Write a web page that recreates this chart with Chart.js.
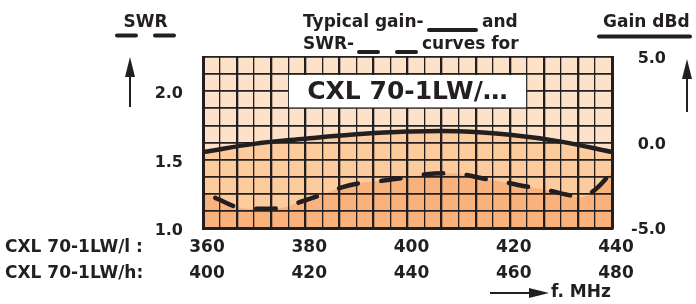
<!DOCTYPE html>
<html>
<head>
<meta charset="utf-8">
<script src="https://cdn.jsdelivr.net/npm/chart.js@4.4.1/dist/chart.umd.min.js"></script>
<style>
  html, body { margin: 0; padding: 0; background: #fff; }
  #wrap { width: 696px; height: 304px; position: relative; }
</style>
</head>
<body>
<div id="wrap"><canvas id="myChart"></canvas></div>
<script>
// gain curve (right axis, dBd)
const gainFreqs = [360, 370, 380, 390, 400, 410, 420, 430, 440]
const gainDb = [-0.56, -0.08, 0.22, 0.48, 0.64, 0.66, 0.45, 0.05, -0.56]

// SWR curve (left axis)
const swrFreqs = [360, 363, 367, 371, 375, 379, 383, 387, 391, 395, 399, 403, 407, 411, 415, 419, 423, 427, 431, 434, 437, 440]
const swrValues = [1.26, 1.21, 1.15, 1.14, 1.145, 1.19, 1.24, 1.295, 1.33, 1.345, 1.365, 1.39, 1.4, 1.39, 1.36, 1.335, 1.305, 1.28, 1.245, 1.225, 1.29, 1.41]

// tick labels
const lowBandTicks = ['360', '380', '400', '420', '440']
const highBandTicks = ['400', '420', '440', '460', '480']
const swrTicks = ['1.0', '1.5', '2.0']
const gainTicks = ['-5.0', '0.0', '5.0']
const rowLabels = ['CXL 70-1LW/l :', 'CXL 70-1LW/h:']

const ink = '#231f20'
const lightFill = '#fde2c9'
const midFill = '#fccb9e'
const darkFill = '#fab27c'
const font = '"DejaVu Sans", sans-serif'
const xLabelPad = 7
const xLineHeight = 25.5

function arrow(ctx, x1, y1, x2, y2, head, half) {
  const ang = Math.atan2(y2 - y1, x2 - x1)
  const bx = x2 - Math.cos(ang) * head
  const by = y2 - Math.sin(ang) * head
  ctx.beginPath()
  ctx.moveTo(x1, y1)
  ctx.lineTo(bx, by)
  ctx.stroke()
  ctx.beginPath()
  ctx.moveTo(x2, y2)
  ctx.lineTo(bx - Math.sin(ang) * half, by + Math.cos(ang) * half)
  ctx.lineTo(bx + Math.sin(ang) * half, by - Math.cos(ang) * half)
  ctx.closePath()
  ctx.fill()
}

function seg(ctx, x1, y1, x2, y2, w) {
  ctx.lineWidth = w
  ctx.beginPath()
  ctx.moveTo(x1, y1)
  ctx.lineTo(x2, y2)
  ctx.stroke()
}

const decorations = {
  id: 'decorations',
  beforeDraw(chart) {
    const { ctx, chartArea: a } = chart
    ctx.save()
    ctx.fillStyle = lightFill
    ctx.fillRect(a.left, a.top, a.right - a.left, a.bottom - a.top)
    ctx.restore()
  },
  afterDraw(chart) {
    const { ctx } = chart
    const xs = chart.scales.x
    const yg = chart.scales.yGain
    ctx.save()

    // white label box over the grid
    const bx1 = xs.getPixelForTick(5) + 0.7
    const bx2 = xs.getPixelForTick(19) - 0.7
    const by1 = yg.getPixelForValue(4) + 0.9
    const by2 = yg.getPixelForValue(2) - 0.9
    ctx.fillStyle = '#fff'
    ctx.fillRect(bx1, by1, bx2 - bx1, by2 - by1)
    ctx.fillStyle = ink
    ctx.font = 'bold 25px ' + font
    ctx.textAlign = 'center'
    ctx.textBaseline = 'middle'
    ctx.fillText('CXL 70-1LW/…', (bx1 + bx2) / 2, (by1 + by2) / 2 + 1)

    // headers
    ctx.font = 'bold 17px ' + font
    ctx.textAlign = 'center'
    ctx.fillText('SWR', 145.5, 23)
    ctx.textAlign = 'left'
    ctx.fillText('Typical gain-', 303, 23)
    ctx.fillText('and', 482, 23)
    ctx.fillText('SWR-', 303, 45)
    ctx.fillText('curves for', 422, 45)
    ctx.fillText('Gain dBd', 603, 23)

    ctx.strokeStyle = ink
    ctx.lineCap = 'round'
    seg(ctx, 117, 35.5, 136, 35.5, 4)
    seg(ctx, 155, 35.5, 174, 35.5, 4)
    seg(ctx, 429, 30, 476, 30, 4)
    seg(ctx, 359, 52, 378, 52, 4)
    seg(ctx, 397, 52, 416, 52, 4)
    seg(ctx, 599, 36.5, 690, 36.5, 4)

    // axis arrows
    ctx.lineCap = 'butt'
    ctx.lineWidth = 2
    arrow(ctx, 130, 107, 130, 57, 20, 5)
    arrow(ctx, 687, 112, 687, 59, 20, 5)
    arrow(ctx, 490, 293, 549, 293, 20, 5)

    // row labels for the two frequency bands
    ctx.font = 'bold 17px ' + font
    ctx.textAlign = 'left'
    const y0 = xs.top + xLabelPad + xLineHeight / 2
    rowLabels.forEach((t, i) => ctx.fillText(t, 5, y0 + i * xLineHeight))
    ctx.fillText('f. MHz', 551, 293)
    ctx.restore()
  }
}

const ctx = document.getElementById('myChart')
const myChart = new Chart(ctx, {
  type: 'line',
  data: {
    datasets: [{
      label: 'SWR',
      data: swrFreqs.map((f, i) => ({ x: f, y: swrValues[i] })),
      yAxisID: 'ySWR',
      borderColor: ink,
      borderWidth: 4.5,
      borderDash: [19.5, 23.5],
      borderDashOffset: 29.6,
      borderCapStyle: 'round',
      cubicInterpolationMode: 'monotone',
      pointRadius: 0,
      fill: 'start',
      backgroundColor: darkFill
    }, {
      label: 'Gain',
      data: gainFreqs.map((f, i) => ({ x: f, y: gainDb[i] })),
      yAxisID: 'yGain',
      borderColor: ink,
      borderWidth: 4.5,
      borderCapStyle: 'round',
      tension: 0.4,
      pointRadius: 0,
      fill: 'start',
      backgroundColor: midFill
    }]
  },
  options: {
    responsive: true,
    maintainAspectRatio: false,
    animation: false,
    layout: { padding: { top: 57, left: 0, right: 30, bottom: 0 } },
    plugins: {
      legend: { display: false },
      tooltip: { enabled: false },
      filler: { drawTime: 'beforeDatasetsDraw' }
    },
    scales: {
      x: {
        type: 'linear',
        min: 360,
        max: 440,
        afterFit: s => { s.height = 76 },
        grid: {
          z: 1,
          color: ink,
          drawTicks: false,
          lineWidth: c => (c.index % 2 === 0 ? 2.3 : 1.3)
        },
        border: { z: 1, color: ink, width: 3 },
        ticks: {
          count: 25,
          autoSkip: false,
          maxRotation: 0,
          padding: xLabelPad,
          labelOffset: 4,
          color: ink,
          font: { family: font, weight: 'bold', size: 17, lineHeight: xLineHeight + 'px' },
          callback: (v, i) => (i % 6 === 0 ? [lowBandTicks[i / 6], highBandTicks[i / 6]] : '')
        }
      },
      ySWR: {
        position: 'left',
        min: 1,
        max: 2.25,
        afterFit: s => { s.width = 203 },
        grid: { z: 1, color: ink, drawTicks: false, lineWidth: 1.7 },
        border: { z: 1, color: ink, width: 3 },
        ticks: {
          count: 11,
          autoSkip: false,
          padding: 20,
          labelOffset: 3,
          color: ink,
          font: { family: font, weight: 'bold', size: 16 },
          callback: (v, i) => (i % 4 === 0 ? swrTicks[i / 4] : '')
        }
      },
      yGain: {
        position: 'right',
        min: -5,
        max: 5,
        afterFit: s => { s.width = 54 },
        grid: { display: false, drawTicks: false },
        border: { z: 1, color: ink, width: 3 },
        ticks: {
          count: 11,
          autoSkip: false,
          crossAlign: 'far',
          labelOffset: 2,
          color: ink,
          font: { family: font, weight: 'bold', size: 16 },
          callback: (v, i) => (i % 5 === 0 ? gainTicks[i / 5] : '')
        }
      }
    }
  },
  plugins: [decorations]
})
</script>
</body>
</html>
